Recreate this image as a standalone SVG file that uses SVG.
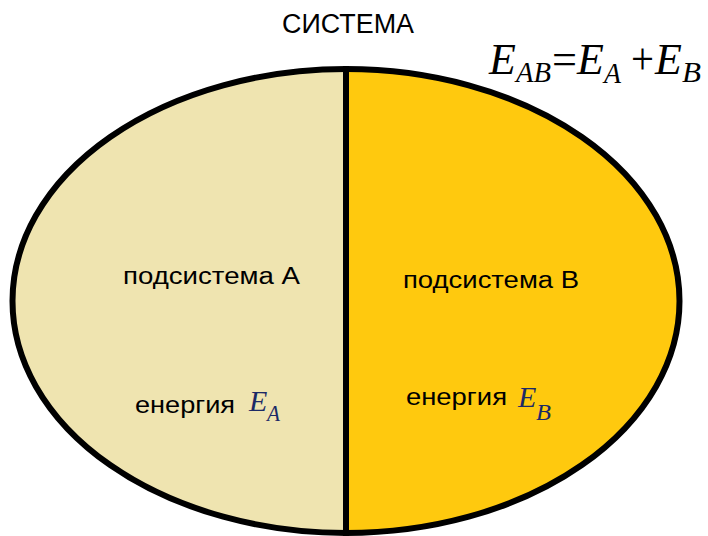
<svg xmlns="http://www.w3.org/2000/svg" width="708" height="536" viewBox="0 0 708 536">
<style>
.lbl{font-family:"Liberation Sans",Arial,sans-serif;fill:#000;}
.m{font-family:"Liberation Serif","Times New Roman",serif;font-style:italic;fill:#000;}
.mb{font-family:"Liberation Serif","Times New Roman",serif;font-style:italic;fill:#1c2a66;}
.up{font-family:"Liberation Serif","Times New Roman",serif;fill:#000;}
</style>
<rect width="708" height="536" fill="#fff"/>
<g id="subsystemA">
<path d="M346,69 A333.5,232 0 0 0 346,533 Z" fill="#EFE4B0"/>
<text class="lbl" x="123" y="284" font-size="23" textLength="177" lengthAdjust="spacingAndGlyphs">подсистема А</text>
<text class="lbl" x="135" y="413" font-size="23" textLength="100" lengthAdjust="spacingAndGlyphs">енергия</text>
<text class="mb" x="249" y="411" font-size="30">E</text>
<text class="mb" x="267" y="421" font-size="23" textLength="13" lengthAdjust="spacingAndGlyphs">A</text>
</g>
<g id="subsystemB">
<path d="M346,69 A333.5,232 0 0 1 346,533 Z" fill="#FFC90E"/>
<text class="lbl" x="403" y="288" font-size="23" textLength="176" lengthAdjust="spacingAndGlyphs">подсистема В</text>
<text class="lbl" x="406" y="405" font-size="23" textLength="101" lengthAdjust="spacingAndGlyphs">енергия</text>
<text class="mb" x="518" y="407" font-size="30">E</text>
<text class="mb" x="536" y="420" font-size="23" textLength="15" lengthAdjust="spacingAndGlyphs">B</text>
</g>
<g id="outline" fill="none" stroke="#000" stroke-width="6">
<ellipse cx="346" cy="301" rx="333.5" ry="232"/>
<line x1="346" y1="66" x2="346" y2="536"/>
</g>
<g id="title">
<text class="lbl" x="282" y="33" font-size="27" textLength="132" lengthAdjust="spacingAndGlyphs">СИСТЕМА</text>
</g>
<g id="formula">
<text class="m" x="489" y="74" font-size="44">E</text>
<text class="m" x="516" y="82" font-size="30" textLength="35" lengthAdjust="spacingAndGlyphs">AB</text>
<text class="up" x="552" y="74" font-size="44" textLength="25" lengthAdjust="spacingAndGlyphs">=</text>
<text class="m" x="577" y="74" font-size="44">E</text>
<text class="m" x="604" y="83" font-size="30" textLength="17" lengthAdjust="spacingAndGlyphs">A</text>
<text class="up" x="631" y="74" font-size="44" textLength="23" lengthAdjust="spacingAndGlyphs">+</text>
<text class="m" x="655" y="74" font-size="44">E</text>
<text class="m" x="682" y="82" font-size="30" textLength="19" lengthAdjust="spacingAndGlyphs">B</text>
</g>
</svg>
